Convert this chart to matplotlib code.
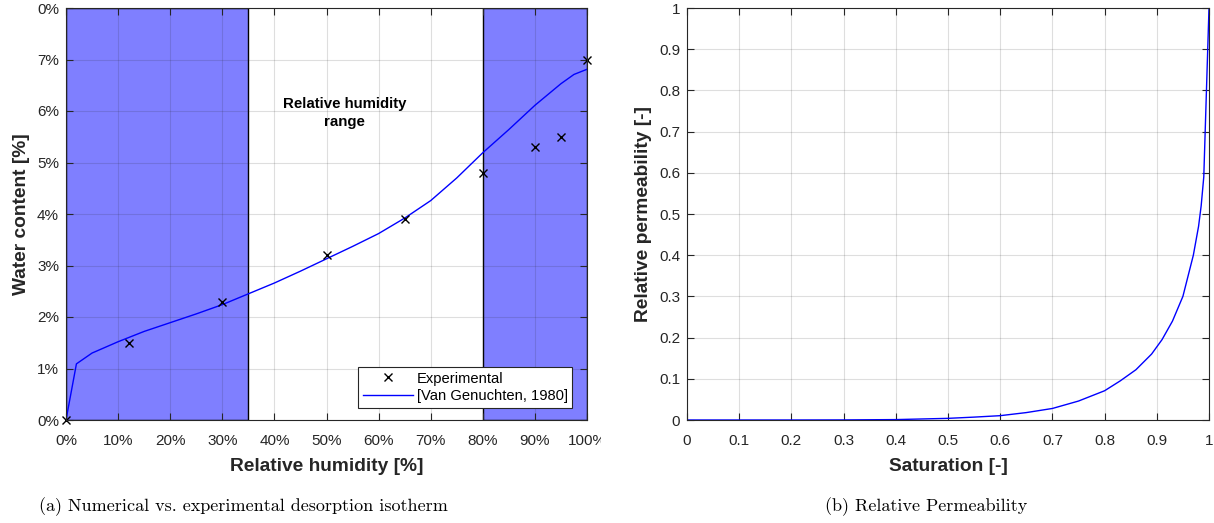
import matplotlib
matplotlib.use("Agg")
import matplotlib.pyplot as plt
from matplotlib.ticker import FixedLocator, FixedFormatter
from matplotlib.transforms import Bbox

# ---------------- data ----------------
rh_exp = [0, 12, 30, 50, 65, 80, 90, 95, 100]
wc_exp = [0.0, 1.5, 2.3, 3.2, 3.9, 4.8, 5.3, 5.5, 7.0]

rh_model = [0, 2, 5, 10, 15, 20, 25, 30, 35, 40, 45, 50, 55, 60, 65, 70, 75,
            80, 85, 90, 95, 97.5, 100]
wc_model = [0.0, 1.09, 1.30, 1.52, 1.72, 1.89, 2.06, 2.24, 2.45, 2.66, 2.89,
            3.13, 3.37, 3.62, 3.92, 4.26, 4.70, 5.19, 5.64, 6.11, 6.53, 6.71, 6.81]

rh_ranges = [(0, 35), (80, 100)]

left_xticks = [0, 10, 20, 30, 40, 50, 60, 70, 80, 90, 100]
left_xlabels = ["0%", "10%", "20%", "30%", "40%", "50%", "60%", "70%", "80%", "90%", "100%"]
left_yticks = [0, 1, 2, 3, 4, 5, 6, 7, 8]
left_ylabels = ["0%", "1%", "2%", "3%", "4%", "5%", "6%", "7%", "0%"]

sat = [0, 0.1, 0.2, 0.3, 0.4, 0.5, 0.55, 0.6, 0.65, 0.7, 0.75, 0.8, 0.83, 0.86,
       0.89, 0.91, 0.93, 0.95, 0.96, 0.97, 0.98, 0.985, 0.99, 1.0]
kr = [0.0, 0.0, 0.0, 0.0002, 0.001, 0.004, 0.007, 0.0105, 0.018, 0.028, 0.046,
      0.071, 0.095, 0.122, 0.16, 0.195, 0.24, 0.30, 0.35, 0.40, 0.47, 0.52, 0.59, 1.0]

right_ticks = [0, 0.1, 0.2, 0.3, 0.4, 0.5, 0.6, 0.7, 0.8, 0.9, 1.0]
right_labels = ["0", "0.1", "0.2", "0.3", "0.4", "0.5", "0.6", "0.7", "0.8", "0.9", "1"]

# ---------------- style ----------------
plt.rcParams['font.family'] = ['Liberation Sans', 'DejaVu Sans']
AX_COL = '#262626'
TXT_COL = '#262626'

fig = plt.figure(figsize=(12.14, 5.23), dpi=100)
W, H = 1214, 523

def make_ax(x0, x1, y0, y1):
    return fig.add_axes([x0 / W, 1 - y1 / H, (x1 - x0) / W, (y1 - y0) / H])

def style(ax):
    ax.set_axisbelow(False)
    ax.grid(True, color=AX_COL, alpha=0.15, linewidth=0.8, zorder=2)
    ax.tick_params(direction='in', length=5, width=0.8, top=True, right=True,
                   colors=AX_COL, labelsize=11, labelcolor=TXT_COL, pad=5)
    ax.tick_params(axis='x', pad=10)
    for s in ax.spines.values():
        s.set_color(AX_COL)
        s.set_linewidth(0.8)
        s.set_zorder(5)

# ---------------- left ----------------
ax1 = make_ax(66, 587, 8, 420)
for a, b in rh_ranges:
    ax1.axvspan(a, b, facecolor=(0, 0, 1, 0.5), edgecolor='black', linewidth=1.0, zorder=1)
ax1.plot(rh_exp, wc_exp, linestyle='none', marker='x', color='black',
         markersize=6, markeredgewidth=1.0, label='Experimental', zorder=4, clip_on=False)
ax1.plot(rh_model, wc_model, color='#0000ff', linewidth=1.0,
         label='[Van Genuchten, 1980]', zorder=3)
ax1.set_xlim(0, 100)
ax1.set_ylim(0, 8)
ax1.xaxis.set_major_locator(FixedLocator(left_xticks))
ax1.xaxis.set_major_formatter(FixedFormatter(left_xlabels))
ax1.yaxis.set_major_locator(FixedLocator(left_yticks))
ax1.yaxis.set_major_formatter(FixedFormatter(left_ylabels))
style(ax1)
ax1.set_xlabel('Relative humidity [%]', fontsize=13.8, fontweight='bold', color=TXT_COL, labelpad=7)
ax1.set_ylabel('Water content [%]', fontsize=13.8, fontweight='bold', color=TXT_COL, labelpad=5)
ax1.text(53.5, 5.96, 'Relative humidity\nrange', ha='center', va='center',
         fontsize=10.8, fontweight='bold', color='black', linespacing=1.35, zorder=6)
leg = ax1.legend(loc='lower right', bbox_to_anchor=(0.972, 0.03), fontsize=10.6,
                 frameon=True, fancybox=False, edgecolor=AX_COL, framealpha=1,
                 handlelength=3.4, borderpad=0.3, labelspacing=0.25, handletextpad=0.3,
                 borderaxespad=0)
leg.get_frame().set_linewidth(0.8)
leg.set_zorder(10)

# clip the last x tick label at the sub-figure boundary like the reference
last = ax1.xaxis.get_major_ticks()[-1]
last.label1.set_clip_on(True)
last.label1.set_clip_box(Bbox.from_extents(0, 0, 601, H))

# ---------------- right ----------------
ax2 = make_ax(687, 1209, 8, 420)
ax2.plot(sat, kr, color='#0000ff', linewidth=1.0, zorder=3)
ax2.set_xlim(0, 1)
ax2.set_ylim(0, 1)
ax2.xaxis.set_major_locator(FixedLocator(right_ticks))
ax2.xaxis.set_major_formatter(FixedFormatter(right_labels))
ax2.yaxis.set_major_locator(FixedLocator(right_ticks))
ax2.yaxis.set_major_formatter(FixedFormatter(right_labels))
style(ax2)
ax2.set_xlabel('Saturation [-]', fontsize=13.8, fontweight='bold', color=TXT_COL, labelpad=7)
ax2.set_ylabel('Relative permeability [-]', fontsize=13.8, fontweight='bold', color=TXT_COL, labelpad=5)

# ---------------- captions ----------------
fig.text(243 / W, 1 - 507 / H, '(a) Numerical vs. experimental desorption isotherm',
         family=['cmr10', 'DejaVu Serif'], fontsize=13, ha='center', va='center', color='black')
fig.text(926 / W, 1 - 507 / H, '(b) Relative Permeability',
         family=['cmr10', 'DejaVu Serif'], fontsize=13, ha='center', va='center', color='black')

fig.savefig('out.png', dpi=100)
